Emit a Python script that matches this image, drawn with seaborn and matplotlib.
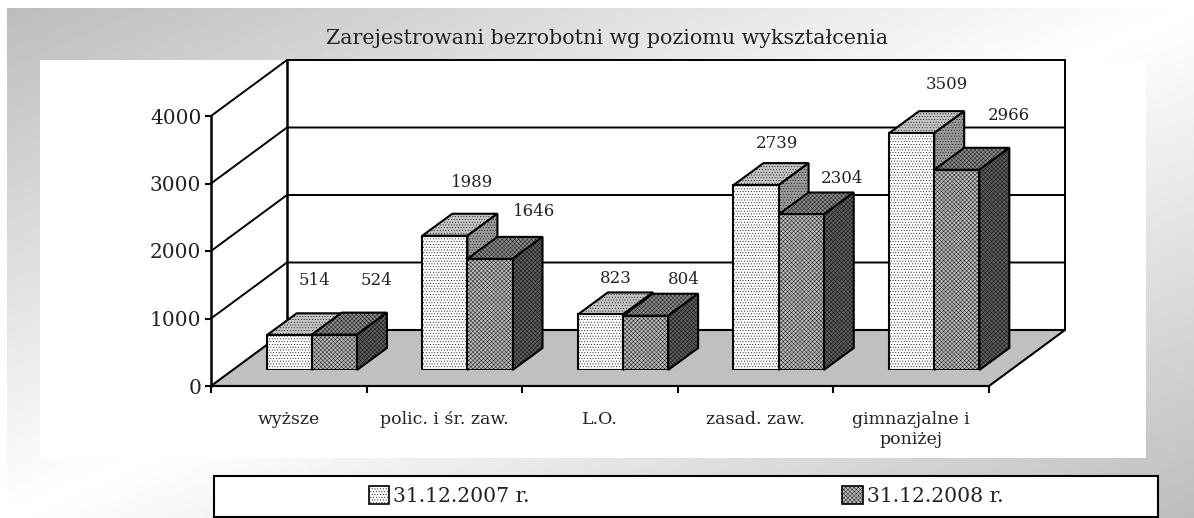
import numpy as np
import pandas as pd
import matplotlib
matplotlib.use('Agg')
import matplotlib.pyplot as plt
from matplotlib.patches import Polygon, Rectangle, Patch
import seaborn as sns

categories = ['wyższe', 'polic. i śr. zaw.', 'L.O.', 'zasad. zaw.', 'gimnazjalne i\nponiżej']
dates = ['31.12.2007 r.', '31.12.2008 r.']
values_2007 = [514, 1989, 823, 2739, 3509]
values_2008 = [524, 1646, 804, 2304, 2966]
y_ticks = [0, 1000, 2000, 3000, 4000]
title = 'Zarejestrowani bezrobotni wg poziomu wykształcenia'

# label offsets from bar top, pixels (they were moved by hand in the original)
offsets_2007 = [(25, 55), (27, 53), (15, 36), (21, 42), (35, 49)]
offsets_2008 = [(42, 54), (44, 47), (38, 36), (41, 36), (52, 54)]

W, H = 1194, 518
TEXT = '#222222'
FACE_2008 = '#bcbcbc'

sns.set_theme(style='white')
plt.rcParams['font.family'] = ['DejaVu Serif']
plt.rcParams['hatch.linewidth'] = 0.3
plt.rcParams['hatch.color'] = 'black'


def box(left, top, right, bottom):
    return [left / W, 1 - bottom / H, (right - left) / W, (bottom - top) / H]


fig = plt.figure(figsize=(W / 100, H / 100), dpi=100, facecolor='white')

# grey diagonal background
ax_bg = fig.add_axes(box(7, 8, W, H), zorder=0)
xx, yy = np.meshgrid(np.linspace(0, 1, 300), np.linspace(0, 1, 150))
shade = 0.74 + 0.26 * (1 - np.abs(xx + yy - 1))
ax_bg.imshow(shade, cmap='gray', vmin=0, vmax=1, aspect='auto')
ax_bg.axis('off')

fig.add_artist(Rectangle((40 / W, 1 - 458 / H), 1106 / W, 398 / H, transform=fig.transFigure,
                         facecolor='white', edgecolor='none', zorder=1))

# front edge of the box: carries the axis
ax_frame = fig.add_axes(box(211, 116, 989, 386), zorder=2)
ax_frame.patch.set_visible(False)
ax_frame.set_xlim(-0.5, 4.5)
ax_frame.set_ylim(0, 4000)
depth_x, depth_y = 76 / 155.6, 56 / 0.0675

floor = Polygon([(-0.5, 0), (-0.5 + depth_x, depth_y), (4.5 + depth_x, depth_y), (4.5, 0)],
                closed=True, facecolor='#c0c0c0', edgecolor='black', lw=1.5, clip_on=False)
ax_frame.add_patch(floor)
for t in y_ticks[1:]:
    ax_frame.plot([-0.5, -0.5 + depth_x, 4.5 + depth_x],
                  [t, t + depth_y, t + depth_y], color='black', lw=1.4, clip_on=False)
top_y = y_ticks[-1] + depth_y
ax_frame.plot([-0.5 + depth_x] * 2, [depth_y, top_y], color='black', lw=1.8, clip_on=False)
ax_frame.plot([4.5 + depth_x] * 2, [depth_y, top_y], color='black', lw=1.4, clip_on=False)

for side in ['top', 'right']:
    ax_frame.spines[side].set_visible(False)
ax_frame.spines['left'].set_linewidth(1.8)
ax_frame.spines['bottom'].set_linewidth(1.5)
ax_frame.spines['left'].set_color('black')
ax_frame.spines['bottom'].set_color('black')
ax_frame.set_yticks(y_ticks)
ax_frame.set_yticklabels(y_ticks, fontsize=14.5, color=TEXT)
ax_frame.tick_params(axis='y', left=True, length=4, width=1.5, pad=3, color='black')
ax_frame.set_xticks(range(len(categories)))
ax_frame.set_xticklabels(categories, fontsize=12.5, color=TEXT, linespacing=1.2)
ax_frame.set_xticks(np.arange(-0.5, 5, 1), minor=True)
ax_frame.tick_params(axis='x', which='major', bottom=False, pad=12)
ax_frame.tick_params(axis='x', which='minor', bottom=True, length=5, width=1.5, color='black')
# one-line labels share a baseline, accents must not push them down
for tick in ax_frame.xaxis.get_major_ticks()[:-1]:
    tick.set_pad(21)
    tick.label1.set_verticalalignment('baseline')

# bars stand part way back on the floor
ax = fig.add_axes(box(234, 100, 1012, 370), zorder=3)
df = pd.DataFrame({
    'category': categories * 2,
    'date': [dates[0]] * 5 + [dates[1]] * 5,
    'value': values_2007 + values_2008,
})
sns.barplot(data=df, x='category', y='value', hue='date', hue_order=dates,
            palette=['white', FACE_2008], saturation=1, width=0.58, gap=0,
            edgecolor='black', linewidth=1.5, legend=False, ax=ax)
ax.set_xlim(-0.5, 4.5)
ax.set_ylim(0, 4000)
ax.axis('off')
ax.patch.set_visible(False)

bar_x, bar_y = 30 / 155.6, 22 / 0.0675
styles = [
    {'hatch': '......', 'top': '#c4c4c4', 'side': '#9a9a9a', 'offsets': offsets_2007},
    {'hatch': 'xxxxxxxx', 'top': '#8e8e8e', 'side': '#606060', 'offsets': offsets_2008},
]
n = len(categories)
for j, st in enumerate(styles):
    for bar, off in zip(ax.patches[j * n:(j + 1) * n], st['offsets']):
        x0, w, h = bar.get_x(), bar.get_width(), bar.get_height()
        bar.set_hatch(st['hatch'])
        bar.set_zorder(3 + 2 * j)
        top = Polygon([(x0, h), (x0 + bar_x, h + bar_y), (x0 + w + bar_x, h + bar_y), (x0 + w, h)],
                      closed=True, facecolor=st['top'], edgecolor='black', lw=1.5,
                      hatch=st['hatch'], clip_on=False, zorder=2 + 2 * j)
        side = Polygon([(x0 + w, 0), (x0 + w + bar_x, bar_y), (x0 + w + bar_x, h + bar_y), (x0 + w, h)],
                       closed=True, facecolor=st['side'], edgecolor='black', lw=1.5,
                       hatch=st['hatch'], clip_on=False, zorder=2 + 2 * j)
        ax.add_patch(top)
        ax.add_patch(side)
        ax.annotate(f'{h:.0f}', xy=(x0 + w / 2, h), xytext=off, textcoords='offset pixels',
                    ha='center', va='center', fontsize=12, color=TEXT,
                    annotation_clip=False, zorder=8)

fig.text(607 / W, 1 - 38 / H, title, ha='center', va='center', fontsize=14.9, color=TEXT)

# legend box runs to the bottom edge of the picture
fig.add_artist(Rectangle((214 / W, 1 - 517 / H), 944 / W, 41 / H, transform=fig.transFigure,
                         facecolor='white', edgecolor='black', lw=1.5, zorder=4))
handles = [Patch(facecolor='white', edgecolor='black', hatch='......', lw=1.2),
           Patch(facecolor=FACE_2008, edgecolor='black', hatch='xxxxxxxx', lw=1.2)]
fig.legend(handles, dates, loc='center', bbox_to_anchor=(686 / W, 1 - 496 / H), ncol=2,
           frameon=False, fontsize=14.7, handlelength=1.0, handleheight=1.0, handletextpad=0.2,
           columnspacing=15.3, labelcolor=TEXT).set_zorder(5)

fig.savefig('out.png', dpi=100)
